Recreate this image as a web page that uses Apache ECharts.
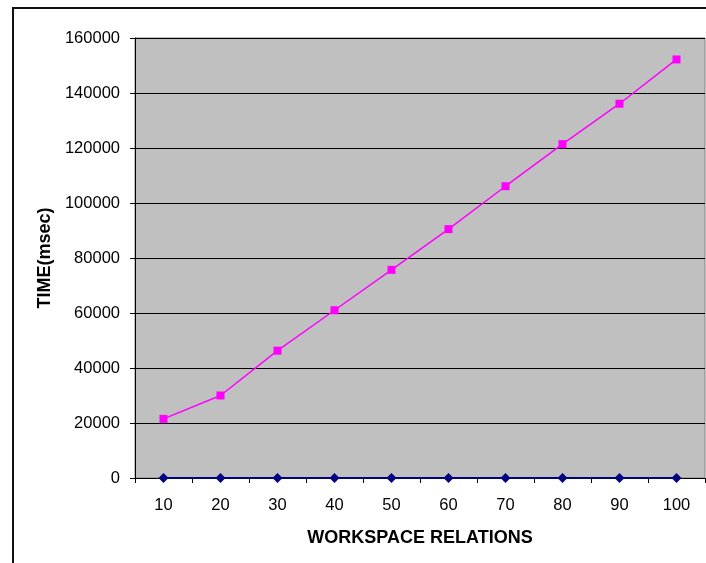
<!DOCTYPE html>
<html>
<head>
<meta charset="utf-8">
<script src="https://cdn.jsdelivr.net/npm/echarts@6/dist/echarts.min.js"></script>
<style>html,body{margin:0;padding:0;background:#fff}#c{width:706px;height:563px}</style>
</head>
<body>
<div id="c"></div>
<script>
var categories = ['10','20','30','40','50','60','70','80','90','100'];
var seriesTime = [21500, 30000, 46300, 61000, 75700, 90500, 106100, 121400, 136100, 152200];
var seriesBase = [0, 0, 0, 0, 0, 0, 0, 0, 0, 0];
var yMin = 0, yMax = 160000, yStep = 20000;

var chart = echarts.init(document.getElementById('c'), null, {renderer: 'canvas'});
var font = 'Liberation Sans, Arial, sans-serif';
chart.setOption({
  animation: false,
  backgroundColor: '#fff',
  graphic: [{
    type: 'rect', silent: true, z: 100,
    shape: {x: 13, y: 8, width: 760, height: 620},
    style: {fill: 'none', stroke: '#111', lineWidth: 2}
  }],
  grid: {
    left: 135, top: 38, width: 570, height: 440,
    show: true, backgroundColor: '#C0C0C0', borderColor: '#808080', borderWidth: 1
  },
  xAxis: {
    type: 'category', data: categories, boundaryGap: true,
    name: 'WORKSPACE RELATIONS', nameLocation: 'middle', nameGap: 51,
    nameTextStyle: {fontFamily: font, fontSize: 18, fontWeight: 'bold', color: '#000'},
    axisLine: {show: true, lineStyle: {color: '#000', width: 1}},
    axisTick: {show: true, alignWithLabel: false, length: 5, lineStyle: {color: '#000'}},
    axisLabel: {fontFamily: font, fontSize: 16.5, color: '#000', margin: 19},
    splitLine: {show: false}
  },
  yAxis: {
    type: 'value', min: yMin, max: yMax, interval: yStep,
    name: 'TIME(msec)', nameLocation: 'middle', nameGap: 80, nameRotate: 90,
    nameTextStyle: {fontFamily: font, fontSize: 18, fontWeight: 'bold', color: '#000'},
    axisLine: {show: true, lineStyle: {color: '#000', width: 1}},
    axisTick: {show: true, length: 5, lineStyle: {color: '#000'}},
    axisLabel: {fontFamily: font, fontSize: 16.5, color: '#000', margin: 15,
      formatter: function (v) { return String(v); }},
    splitLine: {show: true, lineStyle: {color: '#000', width: 1}}
  },
  series: [{
    type: 'line', data: seriesBase,
    symbol: 'diamond', symbolSize: [10, 10],
    itemStyle: {color: '#000080'},
    lineStyle: {color: '#000080', width: 2}
  }, {
    type: 'line', data: seriesTime,
    symbol: 'rect', symbolSize: [8, 8],
    itemStyle: {color: '#FF00FF'},
    lineStyle: {color: '#FF00FF', width: 1.5}
  }]
});
</script>
</body>
</html>
